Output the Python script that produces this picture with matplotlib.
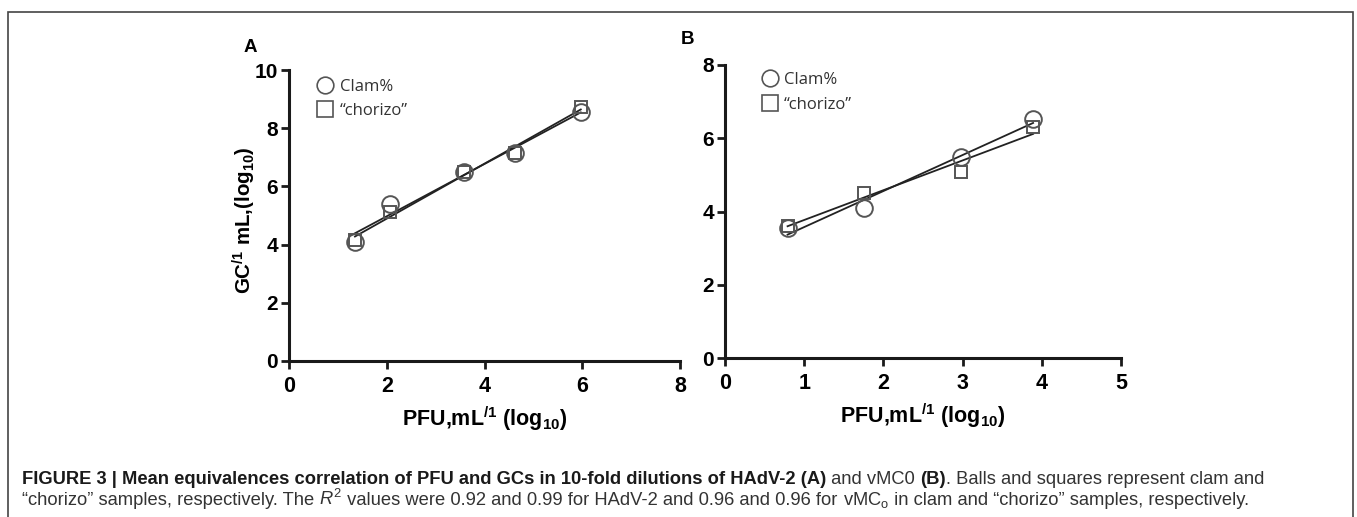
import numpy as np
import matplotlib
matplotlib.use("Agg")
import matplotlib.pyplot as plt
from matplotlib.lines import Line2D
from matplotlib.patches import Rectangle

plt.rcParams['font.family'] = ['Liberation Sans', 'DejaVu Sans']
plt.rcParams['mathtext.fontset'] = 'custom'
plt.rcParams['mathtext.rm'] = 'Liberation Sans'
plt.rcParams['mathtext.it'] = 'Liberation Sans:italic'
plt.rcParams['mathtext.bf'] = 'Liberation Sans:bold'

# ---- data ----
a_x = [1.35, 2.07, 3.58, 4.63, 5.97]
a_clam = [4.08, 5.40, 6.51, 7.14, 8.57]
a_chorizo = [4.15, 5.11, 6.51, 7.15, 8.72]

b_x = [0.79, 1.76, 2.98, 3.89]
b_clam = [3.54, 4.09, 5.48, 6.52]
b_chorizo = [3.61, 4.50, 5.07, 6.30]

legend_labels = ["Clam%", "\u201cchorizo\u201d"]
a_xticks = [0, 2, 4, 6, 8]
a_yticks = [0, 2, 4, 6, 8, 10]
b_xticks = [0, 1, 2, 3, 4, 5]
b_yticks = [0, 2, 4, 6, 8]

W, H = 1357, 517
fig = plt.figure(figsize=(W / 100, H / 100), dpi=100)

# border frame
fig.patches.append(Rectangle((8 / W, -0.05), (1353 - 8) / W, 1 - 12 / H + 0.05,
                             transform=fig.transFigure, fill=False,
                             edgecolor='#444444', lw=1.2))


def panel(rect, x, y1, y2, xlim, ylim, xticks, yticks, ylabel, leg_anchor):
    ax = fig.add_axes(rect)
    for yy, mk, ms in [(y1, 'o', 12), (y2, 's', 9)]:
        ax.plot(x, yy, linestyle='none', marker=mk, ms=ms, mfc='none',
                mec='#555555', mew=1.4, zorder=3)
        p = np.polyfit(x, yy, 1)
        xs = np.array([min(x), max(x)])
        ax.plot(xs, np.polyval(p, xs), color='#222222', lw=1.3, zorder=2)
    ax.set_xlim(*xlim)
    ax.set_ylim(*ylim)
    ax.set_xticks(xticks)
    ax.set_yticks(yticks)
    ax.set_xticklabels([str(t) for t in xticks], fontweight='bold', fontsize=15.5)
    ax.set_yticklabels([str(t) for t in yticks], fontweight='bold', fontsize=15)
    for s in ['top', 'right']:
        ax.spines[s].set_visible(False)
    for s in ['left', 'bottom']:
        ax.spines[s].set_linewidth(2.2)
        ax.spines[s].set_color('#1a1a1a')
    ax.tick_params(width=2, length=6, color='#1a1a1a', pad=2)
    ax.tick_params(axis='x', pad=5)
    ax.set_xlabel(r"PFU,mL$^{\mathbf{/1}}$ (log$_{\mathbf{10}}$)",
                  fontweight='bold', fontsize=15.5, labelpad=5)
    if ylabel:
        ax.set_ylabel(r"GC$^{\mathbf{/1}}$ mL,(log$_{\mathbf{10}}$)",
                      fontweight='bold', fontsize=14.8)
        ax.yaxis.set_label_coords(-0.08, 0.485)
    handles = [Line2D([], [], linestyle='none', marker='o', ms=12, mfc='none',
                      mec='#555555', mew=1.2),
               Line2D([], [], linestyle='none', marker='s', ms=11, mfc='none',
                      mec='#555555', mew=1.2)]
    ax.legend(handles, legend_labels, loc='upper left', bbox_to_anchor=leg_anchor,
              frameon=False, handletextpad=0.35, borderpad=0, borderaxespad=0,
              handlelength=1.0, labelspacing=0.5,
              prop={'family': 'Open Sans', 'size': 12}, labelcolor='#333333')
    return ax


axA = panel([289 / W, 1 - 361 / H, 391 / W, 291 / H], a_x, a_clam, a_chorizo,
            (0, 8), (0, 10), a_xticks, a_yticks, True, (0.072, 0.97))
axB = panel([725 / W, 1 - 358 / H, 396 / W, 293 / H], b_x, b_clam, b_chorizo,
            (0, 5), (0, 8), b_xticks, b_yticks, False, (0.092, 0.975))

fig.text(244 / W, 1 - 47 / H, "A", fontweight='bold', fontsize=13.5, va='center', ha='left')
fig.text(681 / W, 1 - 40 / H, "B", fontweight='bold', fontsize=13.5, va='center', ha='left')

# caption with mixed weights
renderer = fig.canvas.get_renderer()
cap_size = 13.2

B = {'fontweight': 'bold'}
N = {'color': '#333333'}
line1 = [("FIGURE 3 | Mean equivalences correlation of PFU and GCs in 10-fold dilutions of HAdV-2 (A)", B),
         (" and vMC0 ", N), ("(B)", B),
         (". Balls and squares represent clam and", N)]
line2 = [("\u201cchorizo\u201d samples, respectively. The ", N), (r"$R^2$", N),
         (" values were 0.92 and 0.99 for HAdV-2 and 0.96 and 0.96 for ", N),
         (r"vMC$_\mathrm{o}$", N), (" in clam and \u201cchorizo\u201d samples, respectively.", N)]


def draw_segments(segs, x0, y):
    x = x0
    for txt, kw in segs:
        kw = dict(kw)
        color = kw.pop('color', '#1a1a1a')
        t = fig.text(x / W, 1 - y / H, txt, fontsize=cap_size, va='baseline',
                     ha='left', color=color, **kw)
        bb = t.get_window_extent(renderer=renderer)
        x += bb.width


draw_segments(line1, 22, 484)
draw_segments(line2, 22, 505)

fig.savefig("out.png", dpi=100)
